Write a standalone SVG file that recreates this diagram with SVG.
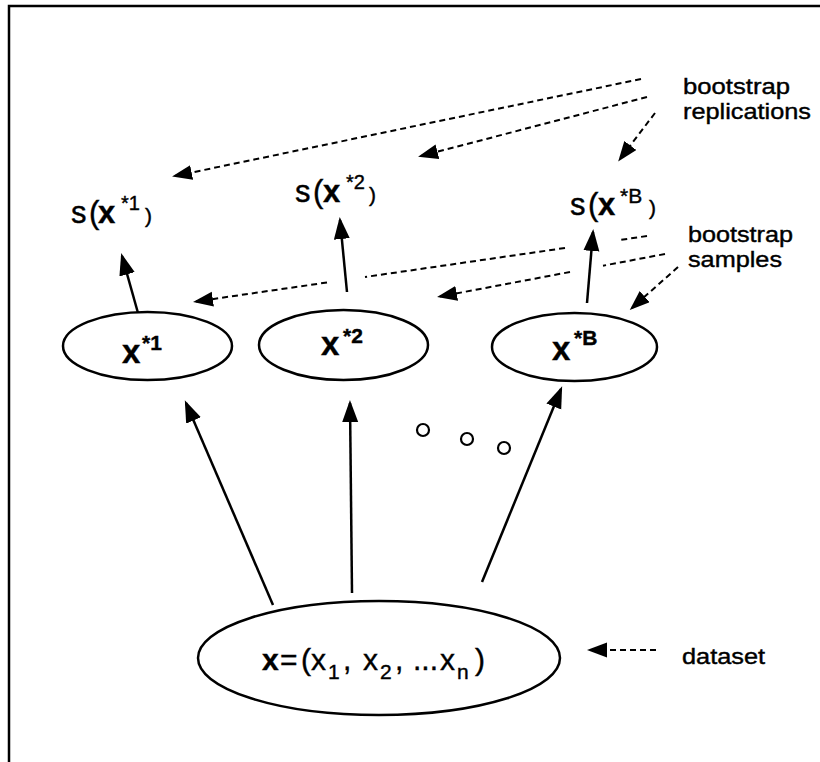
<svg xmlns="http://www.w3.org/2000/svg" width="820" height="762" viewBox="0 0 820 762">
  <style>
    text { font-family: "Liberation Sans", Arial, sans-serif; fill: #000; stroke: #000; stroke-width: 0.4; }
    .node { fill: #fff; stroke: #000; stroke-width: 2.5; }
    .solid { fill: none; stroke: #000; stroke-width: 2.5; marker-end: url(#head); }
    .dash { fill: none; stroke: #000; stroke-width: 2; stroke-dasharray: 6 4; }
    .dashhead { marker-end: url(#dhead); }
    .lbl { font-size: 22px; }
    .b { font-weight: bold; }
  </style>
  <defs>
    <marker id="head" markerUnits="userSpaceOnUse" markerWidth="24" markerHeight="18" refX="19" refY="8" orient="auto">
      <path d="M0,0 L22,8 L0,16 Z" fill="#000" stroke="none"/>
    </marker>
    <marker id="dhead" markerUnits="userSpaceOnUse" markerWidth="22" markerHeight="16" refX="17" refY="7.5" orient="auto">
      <path d="M0,0 L20,7.5 L0,15 Z" fill="#000" stroke="none"/>
    </marker>
  </defs>

  <rect width="820" height="762" fill="#fff"/>
  <!-- frame -->
  <path d="M9,762 L9,6 L820,6" fill="none" stroke="#000" stroke-width="2.5"/>

  <g id="connectors">
    <!-- dataset to samples -->
    <path class="solid" d="M273,605 L186,403"/>
    <path class="solid" d="M352,593 L350,403"/>
    <path class="solid" d="M482,582 L561,389"/>
    <!-- samples to replications -->
    <path class="solid" d="M138,313 L122,256"/>
    <path class="solid" d="M347,292 L340,220"/>
    <path class="solid" d="M587,303 L593,232"/>
    <!-- "bootstrap replications" pointers -->
    <path class="dash dashhead" d="M641,79 L175,176"/>
    <path class="dash dashhead" d="M647,97 L421,156"/>
    <path class="dash dashhead" d="M655,113 L620,159"/>
    <!-- "bootstrap samples" pointers -->
    <path class="dash" d="M647,236 L620,240 M565,248 L365,277"/>
    <path class="dash dashhead" d="M327,282.5 L196,301.5"/>
    <path class="dash" d="M665,254 L603,265.7"/>
    <path class="dash dashhead" d="M570,272 L440,296.5"/>
    <path class="dash dashhead" d="M678,267 L632,308"/>
    <!-- "dataset" pointer -->
    <path class="dash dashhead" d="M656,650 L590,650"/>
  </g>

  <g id="dataset">
    <ellipse class="node" cx="379" cy="658" rx="181" ry="57"/>
    <text y="670" font-size="30">
      <tspan x="262" class="b">x</tspan><tspan x="280">=</tspan><tspan x="301">(</tspan><tspan x="311">x</tspan><tspan x="328" y="679" font-size="21">1</tspan><tspan x="343" y="670">,</tspan><tspan x="363">x</tspan><tspan x="380" y="679" font-size="21">2</tspan><tspan x="395" y="670">,</tspan><tspan x="413">...</tspan><tspan x="440">x</tspan><tspan x="457" y="679" font-size="21">n</tspan><tspan x="475" y="670">)</tspan>
    </text>
  </g>

  <g id="sample1">
    <ellipse class="node" cx="147.5" cy="346" rx="84.5" ry="34"/>
    <text y="363" font-size="33" class="b"><tspan x="122">x</tspan><tspan x="142" y="350" font-size="21">*1</tspan></text>
  </g>
  <g id="sample2">
    <ellipse class="node" cx="343.5" cy="345" rx="84.5" ry="35"/>
    <text y="355" font-size="33" class="b"><tspan x="321">x</tspan><tspan x="343" y="343" font-size="21">*2</tspan></text>
  </g>
  <g id="sampleB">
    <ellipse class="node" cx="574.5" cy="347" rx="82.5" ry="34"/>
    <text y="360" font-size="33" class="b"><tspan x="552">x</tspan><tspan x="574" y="345" font-size="21">*B</tspan></text>
  </g>

  <g id="stat1">
    <text y="223" font-size="31"><tspan x="71">s</tspan><tspan x="89">(</tspan><tspan x="98" class="b">x</tspan><tspan x="121" y="210" font-size="20">*1</tspan><tspan x="145" y="223" font-size="21">)</tspan></text>
  </g>
  <g id="stat2">
    <text y="202" font-size="31"><tspan x="295">s</tspan><tspan x="313">(</tspan><tspan x="323" class="b">x</tspan><tspan x="346" y="189" font-size="20">*2</tspan><tspan x="369" y="202" font-size="21">)</tspan></text>
  </g>
  <g id="statB">
    <text y="215" font-size="31"><tspan x="570">s</tspan><tspan x="588">(</tspan><tspan x="598" class="b">x</tspan><tspan x="620" y="203" font-size="21">*B</tspan><tspan x="649" y="215" font-size="21">)</tspan></text>
  </g>

  <g id="label-replications">
    <text class="lbl" x="683" y="94" textLength="107" lengthAdjust="spacingAndGlyphs">bootstrap</text>
    <text class="lbl" x="683" y="119" textLength="128" lengthAdjust="spacingAndGlyphs">replications</text>
  </g>
  <g id="label-samples">
    <text class="lbl" x="688" y="242" textLength="105" lengthAdjust="spacingAndGlyphs">bootstrap</text>
    <text class="lbl" x="688" y="267" textLength="94" lengthAdjust="spacingAndGlyphs">samples</text>
  </g>
  <g id="label-dataset">
    <text class="lbl" x="682" y="664" textLength="83" lengthAdjust="spacingAndGlyphs">dataset</text>
  </g>

  <g id="ellipsis" fill="none" stroke="#000" stroke-width="2.2">
    <circle cx="423" cy="430" r="6"/>
    <circle cx="467" cy="439" r="6"/>
    <circle cx="504" cy="448" r="6"/>
  </g>
</svg>
